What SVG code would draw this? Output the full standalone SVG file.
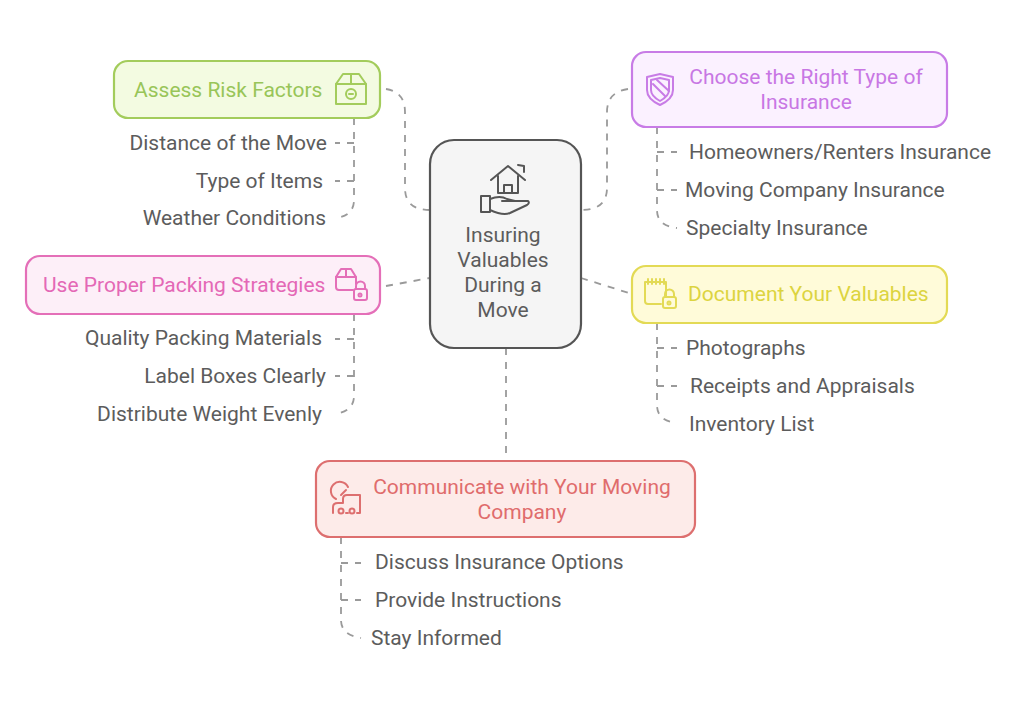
<svg xmlns="http://www.w3.org/2000/svg" width="1024" height="702" viewBox="0 0 1024 702">
<style>
text{font-family:Roboto,"Liberation Sans",sans-serif;font-size:21px;fill:#5c5c5c}
.m{text-anchor:middle}.e{text-anchor:end}
.box{stroke-width:2.2}
.c{fill:none;stroke:#9a9a9a;stroke-width:1.8;stroke-dasharray:7 7}
.i{fill:none;stroke-width:2;stroke-linejoin:round;stroke-linecap:round}
.g{stroke:#a3cc5c}.p{stroke:#c87ce6}.k{stroke:#e46fb8}.y{stroke:#e3da55}.r{stroke:#dd6f6f}
.tg{fill:#98c558}.tp{fill:#c877e4}.tk{fill:#e468b6}.ty{fill:#dcd440}.tr{fill:#e06c6c}
</style>
<rect width="1024" height="702" fill="#fff"/>
<g id="connectors">
<path class="c" d="M386 89Q405 92 405 112V188Q405 210 430 210"/>
<path class="c" d="M628 89Q607 92 607 112V188Q607 210 581 210"/>
<path class="c" d="M386 286L430 278"/>
<path class="c" d="M581 278L632 294"/>
<path class="c" d="M506 348V461"/>
<path class="c" d="M354 118V200Q354 216 335 218"/>
<path class="c" d="M354 143H335"/><path class="c" d="M354 181H335"/>
<path class="c" d="M354 314V396Q354 411 335 414"/>
<path class="c" d="M354 339H335"/><path class="c" d="M354 376H335"/>
<path class="c" d="M657 127V210Q657 226 677 228"/>
<path class="c" d="M657 152H677"/><path class="c" d="M657 190H677"/>
<path class="c" d="M657 323V405Q657 421 677 423"/>
<path class="c" d="M657 348H677"/><path class="c" d="M657 386H677"/>
<path class="c" d="M341 537V620Q341 635 361 638"/>
<path class="c" d="M341 563H361"/><path class="c" d="M341 600H361"/>
</g>
<g id="center">
<rect x="430" y="140" width="151" height="208" rx="24" fill="#f5f5f5" stroke="#555" stroke-width="2.2"/>
<g class="i" stroke="#555" stroke-width="1.8">
<path d="M491 180L508 166L525 180"/><path d="M518 165L524 166V172"/><path d="M498 176V193H518V176"/><path d="M504 193V185H512V193"/>
<rect x="481" y="196" width="9" height="16"/><path d="M490 199Q500 195 507 199L515 201H502M515 201L528 201Q530 203 527 205L510 213Q503 216 490 210"/>
</g>
<text class="m" x="503" y="242">Insuring</text><text class="m" x="503" y="267">Valuables</text><text class="m" x="503" y="292">During a</text><text class="m" x="503" y="317">Move</text>
</g>
<g id="assess">
<rect class="box g" x="114" y="61" width="266" height="57" rx="14" fill="#f3fbe1"/>
<text class="tg" x="134" y="96.500">Assess Risk Factors</text>
<g class="i g"><path d="M336 104V84L343 74H359L366 84V104Z"/><path d="M336 84H366M351 74V84"/><circle cx="351" cy="94" r="5"/><path d="M349 94H353"/></g>
</g>
<g id="assess-items">
<text class="e" x="327" y="150">Distance of the Move</text><text class="e" x="323" y="188">Type of Items</text><text class="e" x="326" y="225">Weather Conditions</text>
</g>
<g id="choose">
<rect class="box p" x="632" y="52" width="315" height="75" rx="14" fill="#fbf1ff"/>
<g class="i p"><path d="M647 77L660 74L673 77V90Q673 99 660 105Q647 99 647 90Z"/><path d="M651 80L660 78L669 80V90Q669 96 660 101Q651 96 651 90Z"/><path d="M653 84L665 96M657 80L669 91"/></g>
<text class="m tp" x="806" y="84">Choose the Right Type of</text><text class="m tp" x="806" y="109">Insurance</text>
</g>
<g id="choose-items">
<text x="689" y="159">Homeowners/Renters Insurance</text><text x="685" y="197">Moving Company Insurance</text><text x="686" y="235">Specialty Insurance</text>
</g>
<g id="packing">
<rect class="box k" x="26" y="256" width="354" height="58" rx="14" fill="#fdeff8"/>
<text class="tk" x="43" y="292">Use Proper Packing Strategies</text>
<g class="i k"><path d="M353 290H339Q336 290 336 287V277L341 269H351L356 277V284"/><path d="M336 277H356M346 269V277"/><rect x="354" y="289" width="13" height="11" rx="2"/><path d="M356 289V286A4 4 0 0 1 365 286V289"/><circle cx="360" cy="295" r="1.500"/></g>
</g>
<g id="packing-items">
<text class="e" x="322" y="345">Quality Packing Materials</text><text class="e" x="326" y="383">Label Boxes Clearly</text><text class="e" x="322" y="421">Distribute Weight Evenly</text>
</g>
<g id="document">
<rect class="box y" x="632" y="266" width="315" height="57" rx="14" fill="#fffbd9"/>
<g class="i y"><path d="M661 304H648Q645 304 645 301V282H666V296"/><path d="M648 279V284M652 279V284M656 279V284M660 279V284M664 279V284"/><rect x="663" y="297" width="13" height="11" rx="2"/><path d="M665 297V294A4 4 0 0 1 674 294V297"/><circle cx="669" cy="303" r="1.500"/></g>
<text class="ty" x="688" y="301">Document Your Valuables</text>
</g>
<g id="document-items">
<text x="686" y="355">Photographs</text><text x="690" y="393">Receipts and Appraisals</text><text x="689" y="431">Inventory List</text>
</g>
<g id="communicate">
<rect class="box r" x="316" y="461" width="379" height="76" rx="14" fill="#fdebe9"/>
<g class="i r"><path d="M336 499A9 9 0 1 1 348 487"/><path d="M341 495L346 490"/><path d="M333 513V507Q333 503 338 503H343V499Q343 495 347 495H360V513H357M348 513H346"/><circle cx="341" cy="511" r="2.500"/><circle cx="352" cy="511" r="2.500"/></g>
<text class="m tr" x="522" y="494">Communicate with Your Moving</text><text class="m tr" x="522" y="519">Company</text>
</g>
<g id="communicate-items">
<text x="375" y="569">Discuss Insurance Options</text><text x="375" y="607">Provide Instructions</text><text x="371" y="645">Stay Informed</text>
</g>
</svg>
